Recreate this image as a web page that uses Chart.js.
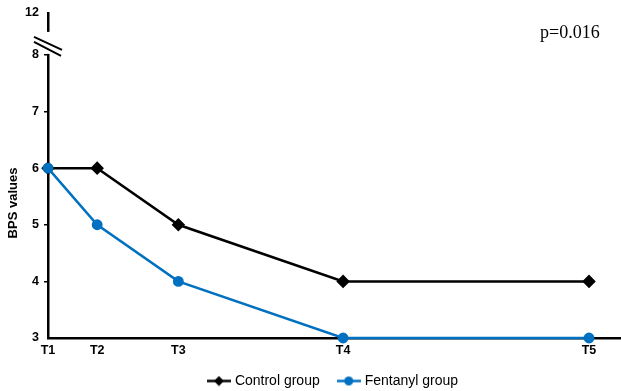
<!DOCTYPE html>
<html>
<head>
<meta charset="utf-8">
<script src="https://cdn.jsdelivr.net/npm/chart.js@4"></script>
<style>
  body { margin: 0; background: #fff; }
  #wrap { width: 621px; height: 391px; position: relative; }
</style>
</head>
<body>
<div id="wrap"><canvas id="myChart"></canvas></div>
<script>
// time points (x position on a linear axis) and their names
var timePoints = [0, 1, 2.65, 6, 11];
var timeLabels = ['T1', 'T2', 'T3', 'T4', 'T5'];

// BPS values per group
var controlGroup = [6, 6, 5, 4, 4];
var fentanylGroup = [6, 5, 4, 3, 3];

// y axis: 3..8, then a break up to 12
var yTicks = [3, 4, 5, 6, 7, 8];
var yBreakLabel = '12';
var yTopValue = 8.74;

var BLUE = '#0070C0';
var FONT = '"Liberation Sans", Arial, sans-serif';

function toPoints(vals) {
  return timePoints.map(function (t, i) { return { x: t, y: vals[i] }; });
}

// line + marker for the legend
function legendMark(color, diamond) {
  var c = document.createElement('canvas');
  c.width = 24; c.height = 11;
  var g = c.getContext('2d');
  g.strokeStyle = color;
  g.lineWidth = 2.5;
  g.beginPath(); g.moveTo(0, 5.5); g.lineTo(24, 5.5); g.stroke();
  g.fillStyle = color;
  g.beginPath();
  if (diamond) {
    g.moveTo(12, 0.5); g.lineTo(17, 5.5); g.lineTo(12, 10.5); g.lineTo(7, 5.5);
    g.closePath();
  } else {
    g.arc(12, 5.5, 4.5, 0, Math.PI * 2);
  }
  g.fill();
  return c;
}
var marks = [legendMark('#000', true), legendMark(BLUE, false)];

var extras = {
  id: 'extras',
  afterDraw: function (chart) {
    var ctx = chart.ctx;
    var ys = chart.scales.y;
    var x0 = chart.chartArea.left;
    var p8 = ys.getPixelForValue(8);

    // axis break
    ctx.save();
    ctx.fillStyle = '#fff';
    ctx.fillRect(x0 - 3, p8 - 23, 6, 22);
    ctx.strokeStyle = '#000';
    ctx.lineWidth = 2;
    ctx.beginPath();
    ctx.moveTo(x0 - 14, p8 - 18); ctx.lineTo(x0 + 14, p8 - 5);
    ctx.moveTo(x0 - 14, p8 - 13); ctx.lineTo(x0 + 13, p8 + 1);
    ctx.stroke();

    // y title
    ctx.fillStyle = '#000';
    ctx.font = 'bold 13px ' + FONT;
    ctx.textAlign = 'center';
    ctx.textBaseline = 'middle';
    ctx.translate(13, 203);
    ctx.rotate(-Math.PI / 2);
    ctx.fillText('BPS values', 0, 0);
    ctx.restore();

    // p value
    ctx.save();
    ctx.fillStyle = '#000';
    ctx.font = '18px "Liberation Serif", "Times New Roman", serif';
    ctx.textAlign = 'left';
    ctx.textBaseline = 'alphabetic';
    ctx.fillText('p=0.016', 540, 38);
    ctx.restore();
  }
};

new Chart(document.getElementById('myChart'), {
  type: 'line',
  data: {
    datasets: [{
      label: 'Control group',
      data: toPoints(controlGroup),
      borderColor: '#000',
      backgroundColor: '#000',
      borderWidth: 2.5,
      pointStyle: 'rectRot',
      pointRadius: 5,
      pointHoverRadius: 5,
      tension: 0,
      clip: false,
      order: 2
    }, {
      label: 'Fentanyl group',
      data: toPoints(fentanylGroup),
      borderColor: BLUE,
      backgroundColor: BLUE,
      borderWidth: 2.5,
      pointStyle: 'circle',
      pointRadius: 4.2,
      pointHoverRadius: 4.2,
      tension: 0,
      clip: false,
      order: 1
    }]
  },
  options: {
    responsive: true,
    maintainAspectRatio: false,
    animation: false,
    layout: { autoPadding: false, padding: { top: 13, right: 1, left: 0, bottom: -7 } },
    scales: {
      x: {
        type: 'linear',
        min: timePoints[0],
        max: 11.63,
        afterBuildTicks: function (scale) {
          scale.ticks = timePoints.map(function (v) { return { value: v }; });
        },
        afterFit: function (scale) { scale.height = 16; },
        ticks: {
          autoSkip: false,
          maxRotation: 0,
          padding: 5,
          color: '#000',
          font: { family: FONT, size: 12.5, weight: 'bold' },
          callback: function (v) {
            var i = timePoints.indexOf(v);
            return i >= 0 ? timeLabels[i] : '';
          }
        },
        grid: { drawOnChartArea: false, drawTicks: false },
        border: { color: '#000', width: 2.5 }
      },
      y: {
        min: yTicks[0],
        max: yTopValue,
        afterBuildTicks: function (scale) {
          scale.ticks = yTicks.concat([yTopValue]).map(function (v) { return { value: v }; });
        },
        afterFit: function (scale) { scale.width = 48; },
        ticks: {
          autoSkip: false,
          padding: 5,
          color: '#000',
          font: { family: FONT, size: 12.5, weight: 'bold' },
          callback: function (v) {
            return v === yTopValue ? yBreakLabel : String(v);
          }
        },
        grid: {
          drawOnChartArea: false,
          drawTicks: true,
          tickLength: 4,
          lineWidth: 1.5,
          color: function (c) {
            return (c.tick && (c.tick.value === yTopValue || c.tick.value === yTicks[0])) ? 'rgba(0,0,0,0)' : '#000';
          }
        },
        border: { color: '#000', width: 2.5 }
      }
    },
    plugins: {
      tooltip: { enabled: false },
      legend: {
        position: 'bottom',
        fullSize: false,
        labels: {
          color: '#000',
          font: { family: FONT, size: 14 },
          usePointStyle: true,
          pointStyleWidth: 18,
          boxHeight: 11,
          padding: 20,
          sort: function (a, b) { return a.datasetIndex - b.datasetIndex; },
          generateLabels: function (chart) {
            var items = Chart.defaults.plugins.legend.labels.generateLabels(chart);
            items.forEach(function (it) { it.pointStyle = marks[it.datasetIndex]; });
            return items;
          }
        }
      }
    }
  },
  plugins: [extras]
});
</script>
</body>
</html>
